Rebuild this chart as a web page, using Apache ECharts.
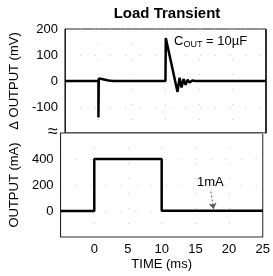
<!DOCTYPE html>
<html>
<head>
<meta charset="utf-8">
<script src="https://cdn.jsdelivr.net/npm/echarts@6/dist/echarts.min.js"></script>
<style>
  html, body { margin: 0; padding: 0; background: #fff; }
  #main { width: 273px; height: 276px; }
</style>
</head>
<body>
<div id="main"></div>
<script>
// top panel: output voltage deviation (mV) vs time (ms)
const vTime = [-5, 0, 0, 0.05, 0.5, 1, 1.5, 2.2, 10, 10.05, 11.8, 12.1, 12.4, 12.7, 13.0, 13.3, 13.6, 14.0, 14.5, 25];
const vOut  = [0, 0, -140, 10, 8, 5, 2, 0, 0, 165, -42, 12, -25, 8, -15, 5, -6, 2, 0, 0];
// bottom panel: load current (mA) vs time (ms)
const iTime = [-5, 0, 0, 10, 10, 25];
const iOut  = [0, 0, 400, 400, 1, 1];
const xTicks = [0, 5, 10, 15, 20, 25];
const vTicks = [-100, 0, 100, 200];
const iTicks = [0, 200, 400];

const font = '"Liberation Sans", Arial, sans-serif';
const chart = echarts.init(document.getElementById('main'));

const dotted = { show: true, lineStyle: { color: '#c8c8c8', type: [1, 14], width: 1 } };

const xBase = (gridIndex, showLabels) => ({
  type: 'value', gridIndex, min: -5, max: 25, interval: 5,
  axisLine: { show: true, onZero: false, lineStyle: { color: '#999', width: 1 } },
  axisTick: { show: false },
  splitLine: { show: true, lineStyle: { color: '#c8c8c8', type: [1, 14], width: 1 } },
  axisLabel: {
    show: showLabels, color: '#000', fontFamily: font, fontSize: 13, margin: 6,
    formatter: v => xTicks.includes(v) ? String(v) : ''
  }
});

const yLabel = (ticks) => ({
  color: '#000', fontFamily: font, fontSize: 13, margin: 7,
  formatter: v => ticks.includes(v) ? String(v) : ''
});

chart.setOption({
  animation: false,
  title: {
    text: 'Load Transient', left: 162, top: 1, textAlign: 'center',
    textStyle: { fontFamily: font, fontSize: 15, fontWeight: 'bold', color: '#000' }
  },
  grid: [
    { left: 59, right: 7, top: 29, height: 104, show: true, borderColor: '#222', borderWidth: 1 },
    { left: 59, right: 7, top: 133, height: 104, show: true, borderColor: '#222', borderWidth: 1 }
  ],
  xAxis: [
    xBase(0, false),
    Object.assign(xBase(1, true), {
      name: 'TIME (ms)', nameLocation: 'middle', nameGap: 21,
      nameTextStyle: { fontFamily: font, fontSize: 13, color: '#000' }
    })
  ],
  yAxis: [
    {
      type: 'value', gridIndex: 0, min: -200, max: 200, interval: 100,
      name: 'Δ OUTPUT (mV)', nameLocation: 'middle', nameGap: 38,
      nameTextStyle: { fontFamily: font, fontSize: 13, color: '#000' },
      axisLine: { show: true, onZero: false, lineStyle: { color: '#222' } },
      axisTick: { show: false },
      splitLine: dotted,
      axisLabel: yLabel(vTicks)
    },
    {
      type: 'value', gridIndex: 1, min: -200, max: 600, interval: 200,
      name: 'OUTPUT (mA)', nameLocation: 'middle', nameGap: 38,
      nameTextStyle: { fontFamily: font, fontSize: 13, color: '#000' },
      axisLine: { show: true, onZero: false, lineStyle: { color: '#222' } },
      axisTick: { show: false },
      splitLine: dotted,
      axisLabel: yLabel(iTicks)
    }
  ],
  series: [
    {
      type: 'line', xAxisIndex: 0, yAxisIndex: 0, symbol: 'none',
      lineStyle: { color: '#000', width: 2.5 },
      data: vTime.map((t, i) => [t, vOut[i]]),
      markLine: {
        silent: true, symbol: 'none',
        lineStyle: { color: '#111', type: 'solid', width: 1.5 },
        label: { show: false },
        data: [[{ coord: [25, -200] }, { coord: [25, 200] }]]
      }
    },
    {
      type: 'line', xAxisIndex: 1, yAxisIndex: 1, symbol: 'none',
      lineStyle: { color: '#000', width: 2.5 },
      data: iTime.map((t, i) => [t, iOut[i]]),
      markLine: {
        silent: true, symbol: ['none', 'arrow'], symbolSize: 6,
        lineStyle: { color: '#555', type: [2, 2], width: 1 },
        label: { show: false },
        data: [[{ coord: [17.3, 150] }, { coord: [17.7, 15] }]]
      }
    }
  ],
  graphic: [
    {
      type: 'text', left: 174, top: 35,
      style: {
        text: '{c|C}{s|OUT}{c| = 10µF}',
        rich: {
          c: { fontFamily: font, fontSize: 13, fill: '#000' },
          s: { fontFamily: font, fontSize: 9, fill: '#000', padding: [7, 0, 0, 0] }
        }
      }
    },
    {
      type: 'text', left: 197, top: 176,
      style: { text: '1mA', fontFamily: font, fontSize: 13, fill: '#000' }
    },
    {
      type: 'text', left: 48, top: 123,
      style: { text: '≈', fontFamily: font, fontSize: 18, fill: '#111', backgroundColor: '#fff' }
    }
  ]
});
</script>
</body>
</html>
